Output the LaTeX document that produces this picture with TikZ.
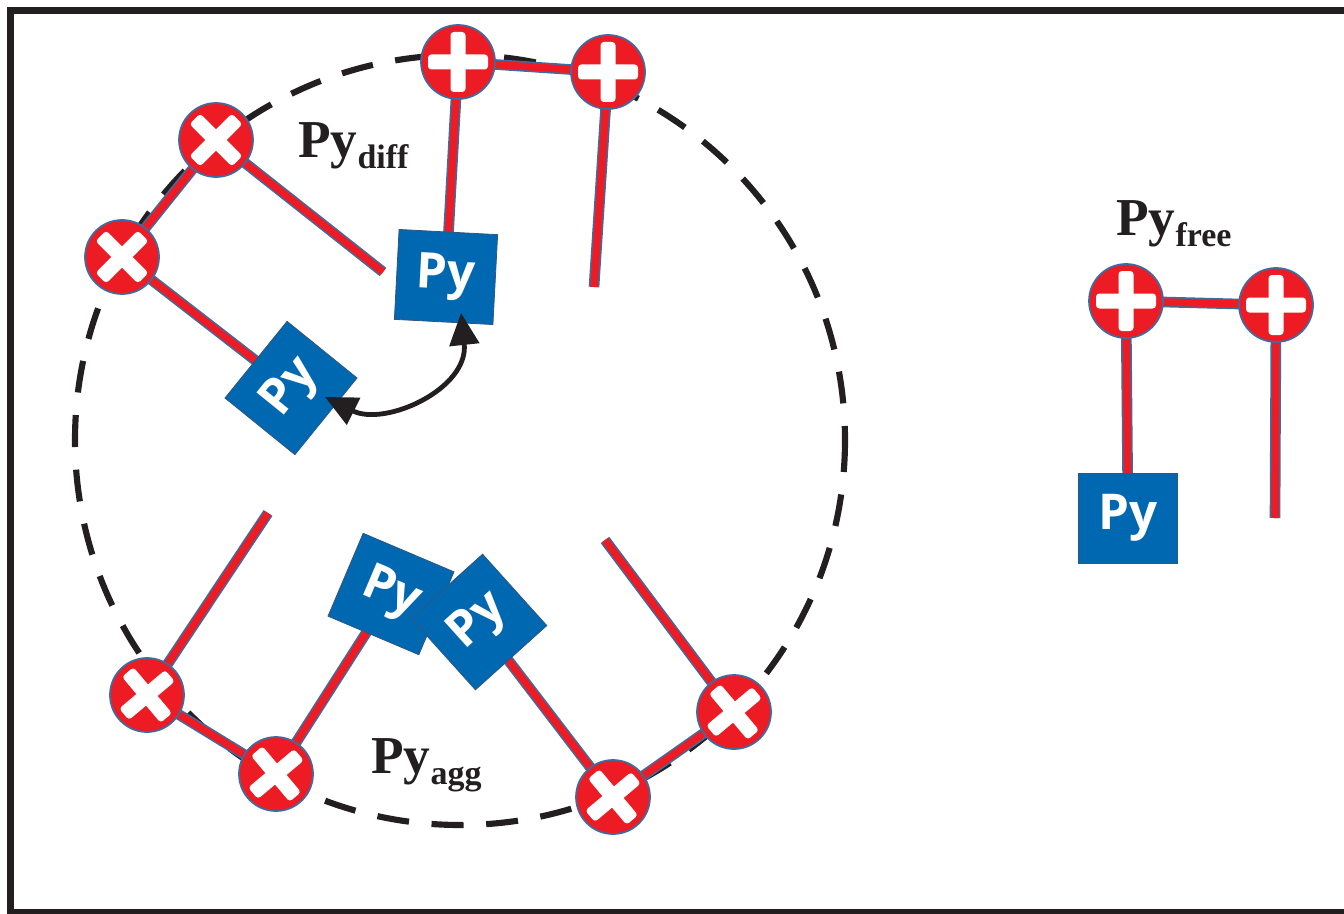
\documentclass[tikz,border=0pt]{standalone}
\usepackage{fontspec}
\setmainfont{Liberation Serif}
\newfontfamily\pyfont{Open Sans}
\usetikzlibrary{arrows.meta,calc}
\definecolor{ionred}{RGB}{237,28,36}
\definecolor{edgeblue}{RGB}{62,108,160}
\definecolor{boxblue}{RGB}{0,103,177}
\definecolor{inkblack}{RGB}{35,31,32}
\pgfdeclarelayer{bg}
\pgfsetlayers{bg,main}
\tikzset{
  rod/.style={draw=edgeblue,line width=1.2pt,double=ionred,double distance=5.6pt},
  ball/.style={circle,fill=ionred,draw=edgeblue,line width=1.3pt,minimum size=55.5pt,inner sep=0pt},
  pybox/.style={fill=boxblue,draw=edgeblue!80!black,line width=0.6pt,minimum width=74pt,minimum height=67.5pt,inner sep=0pt,text=white,font=\pyfont\bfseries\fontsize{37}{37}\selectfont},
  lbl/.style={anchor=base west,inner sep=0pt,text=inkblack,font=\bfseries\fontsize{40}{40}\selectfont},
  twoway/.style={inkblack,line width=3.6pt,{Triangle[length=24pt,width=22pt]}-{Triangle[length=24pt,width=22pt]}},
  frameline/.style={inkblack,line width=5.25pt},
  pool/.style={inkblack,line width=4.6pt,dash pattern=on 24pt off 17pt}
}
\newcommand\subtxt[1]{\raisebox{-8.25pt}{\fontsize{25.5}{25.5}\selectfont #1}}
\newcommand\ionmark[4]{%
  \node[ball] (#1) at (#2,#3) {};
  \begin{scope}[shift={(#1.center)},rotate=#4]
    \fill[white,rounded corners=2.5pt] (-30,-7.5) rectangle (30,7.5);
    \fill[white,rounded corners=2.5pt] (-7.5,-30) rectangle (7.5,30);
  \end{scope}}
\begin{document}
\begin{tikzpicture}[x=0.75pt,y=-0.75pt]
\useasboundingbox (0,0) rectangle (1344,913);
% frame
\draw[frameline] (1360,10.5) -- (10,10.5) -- (10,912) -- (1360,912);
% dashed pool
\begin{pgfonlayer}{bg}
\draw[pool] (460,440) circle[radius=385];
\end{pgfonlayer}
% boxes
\node[pybox,rotate=-3] (A) at (446,277) {Py};
\node[pybox,rotate=51] (B) at (291,388) {Py};
\node[pybox,rotate=-23] (C) at (391,594) {Py};
\node[pybox,rotate=42,minimum width=72pt,minimum height=72pt] (D) at (479,622) {Py};
\node[pybox] (E) at (1128,518) {Py};
% ions
\ionmark{p1}{458}{62}{0}
\ionmark{p2}{608}{72}{0}
\ionmark{x1}{216}{140}{45}
\ionmark{x2}{122}{257}{45}
\ionmark{x3}{147}{695}{40}
\ionmark{x4}{276}{774}{40}
\ionmark{x5}{613}{797}{40}
\ionmark{x6}{734}{712}{40}
\ionmark{p3}{1126}{301}{0}
\ionmark{p4}{1276}{305}{0}
% free rod ends
\coordinate (e1) at (594,287);
\coordinate (e2) at (383,272);
\coordinate (e3) at (268,513);
\coordinate (e4) at (605,540);
\coordinate (e5) at (1275,518);
% rods
\begin{pgfonlayer}{bg}
\draw[rod] (p1.center) -- (p2.center);
\draw[rod] (p1.center) -- (A.center);
\draw[rod] (p2.center) -- (e1);
\draw[rod] (x1.center) -- (x2.center);
\draw[rod] (x1.center) -- (e2);
\draw[rod] (x2.center) -- (B.center);
\draw[rod] (x3.center) -- (e3);
\draw[rod] (x3.center) -- (x4.center);
\draw[rod] (x4.center) -- (C.center);
\draw[rod] (x5.center) -- (D.center);
\draw[rod] (x5.center) -- (x6.center);
\draw[rod] (x6.center) -- (e4);
\draw[rod] (p3.center) -- (p4.center);
\draw[rod] (p3.center) -- (E.center);
\draw[rod] (p4.center) -- (e5);
\end{pgfonlayer}
% exchange arrow
\coordinate (arrS) at ($(B.center)+(34,9)$);
\coordinate (arrT) at ($(A.center)+(15,36)$);
\draw[twoway] (arrS) .. controls +(60,30) and +(8,76) .. (arrT);
% labels
\node[lbl] (ldiff) at (298,157) {Py\subtxt{diff}};
\node[lbl] (lagg) at (371,773) {Py\subtxt{agg}};
\node[lbl] (lfree) at (1116,235) {Py\subtxt{free}};
\end{tikzpicture}
\end{document}
